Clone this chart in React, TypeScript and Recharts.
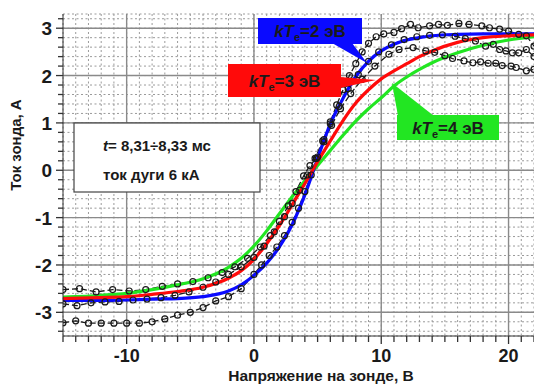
import { CartesianGrid, Line, LineChart, ReferenceLine, XAxis, YAxis } from 'recharts'

// model curves (kTe = 2, 3, 4 эВ)
const fitX = [-15, -12, -10, -8, -6, -4, -2, -1, 0, 1, 2, 3, 4, 5, 6, 7, 8, 9, 10, 11, 12, 13, 14, 16, 18, 20, 22]
const fitTe2 = [-2.75, -2.75, -2.74, -2.72, -2.71, -2.67, -2.55, -2.42, -2.22, -1.96, -1.62, -1.15, -0.52, 0.25, 0.98, 1.52, 1.98, 2.3, 2.52, 2.66, 2.75, 2.8, 2.84, 2.87, 2.88, 2.88, 2.88]
const fitTe3 = [-2.71, -2.69, -2.67, -2.62, -2.56, -2.47, -2.28, -2.12, -1.88, -1.55, -1.17, -0.73, -0.28, 0.18, 0.62, 1.05, 1.42, 1.7, 1.93, 2.1, 2.25, 2.4, 2.52, 2.7, 2.8, 2.84, 2.86]
const fitTe4 = [-2.68, -2.64, -2.6, -2.52, -2.42, -2.29, -2.05, -1.86, -1.6, -1.28, -0.92, -0.56, -0.22, 0.1, 0.42, 0.74, 1.04, 1.3, 1.53, 1.78, 1.97, 2.13, 2.27, 2.48, 2.64, 2.75, 2.82]

// measured probe traces
const probeAX = [-15, -14, -13, -12, -11, -10, -9, -8, -7, -6, -5, -4, -3, -2, -1, 0, 0.6, 1.2, 1.8, 2.4, 3, 3.5, 4, 4.5, 5, 5.5, 6, 6.5, 7, 7.5, 8, 8.5, 9, 9.6, 10.2, 11, 11.6, 12.3, 12.9, 13.8, 14.5, 15.2, 16.1, 16.9, 17.9, 18.5, 19.3, 20, 20.8, 21.4, 22]
const probeAY = [-3.22, -3.18, -3.23, -3.23, -3.23, -3.23, -3.23, -3.2, -3.14, -3.06, -3.0, -2.9, -2.76, -2.67, -2.5, -2.2, -2.0, -1.8, -1.62, -1.38, -1.1, -0.8, -0.45, -0.1, 0.28, 0.65, 1.02, 1.38, 1.7, 2.0, 2.25, 2.5, 2.68, 2.82, 2.88, 2.91, 2.99, 3.08, 3.01, 3.05, 3.08, 3.06, 3.1, 3.08, 3.05, 3.01, 2.98, 2.94, 2.87, 2.84, 2.62]
const probeBX = [-15, -13.9, -12.8, -11.7, -10.6, -9.5, -8.4, -7.3, -6.2, -5.1, -4, -3, -2, -1, 0, 0.8, 1.6, 2.4, 3, 3.6, 4.2, 4.8, 5.4, 6, 6.7, 7.4, 8.2, 9, 9.8, 10.8, 11.8, 12.8, 13.8, 14.8, 15.8, 16.6, 17.4, 18.2, 18.8, 19.3, 19.8, 20.3, 20.8, 21.4, 22]
const probeBY = [-2.82, -2.86, -2.8, -2.78, -2.77, -2.74, -2.72, -2.69, -2.64, -2.57, -2.47, -2.36, -2.2, -2.04, -1.84, -1.6, -1.3, -0.98, -0.7, -0.42, -0.1, 0.25, 0.62, 0.98, 1.35, 1.72, 2.02, 2.3, 2.5, 2.65, 2.76, 2.82, 2.85, 2.86, 2.83, 2.78, 2.73, 2.62, 2.66, 2.55, 2.52, 2.48, 2.48, 2.55, 2.4]
const probeCX = [-15, -13.7, -12.4, -11.1, -9.8, -8.5, -7.2, -6, -4.8, -3.6, -2.5, -1.5, -0.5, 0.5, 1.3, 2, 2.7, 3.3, 3.9, 4.4, 4.9, 5.5, 6.1, 6.8, 7.6, 8.5, 9.5, 10.6, 11.4, 12.5, 13.5, 14.2, 15, 15.6, 16.5, 17.2, 17.8, 18.4, 19, 19.5, 20.2, 20.6, 21.4, 22]
const probeCY = [-2.52, -2.5, -2.57, -2.52, -2.55, -2.52, -2.45, -2.4, -2.35, -2.27, -2.16, -2.04, -1.86, -1.62, -1.38, -1.08, -0.75, -0.45, -0.12, 0.1, 0.25, 0.6, 0.95, 1.3, 1.62, 1.92, 2.2, 2.45, 2.55, 2.59, 2.52, 2.49, 2.42, 2.36, 2.31, 2.27, 2.29, 2.26, 2.26, 2.21, 2.2, 2.17, 2.1, 2.13]

// axis labels / grid
const xMajorTicks = [-10, 0, 10, 20]
const yMajorTicks = [-3, -2, -1, 0, 1, 2, 3]
const xMinorTicks = Array.from({ length: 38 }, (_, i) => i - 15)
const yMinorTicks = Array.from({ length: 34 }, (_, i) => Math.round((i - 17) * 2) / 10)

const zip = (xs: number[], ys: number[]) => xs.map((x, i) => ({ x, y: ys[i] }))

const FONT = 'Liberation Sans, Arial, sans-serif'
const INK = '#1a1a1a'

function XTick({ x, y, payload }: any) {
  const major = xMajorTicks.includes(payload.value)
  return (
    <g>
      <line x1={x} x2={x} y1={y} y2={y + (major ? 8 : 6)} stroke='#333' strokeWidth={1.3} />
      {major && (
        <text x={x} y={y + 26} textAnchor='middle' fontSize={18} fontWeight='bold' fill={INK} fontFamily={FONT}>
          {payload.value}
        </text>
      )}
    </g>
  )
}

function YTick({ x, y, payload }: any) {
  const major = yMajorTicks.includes(payload.value)
  return (
    <g>
      <line x1={x - (major ? 7 : 5)} x2={x} y1={y} y2={y} stroke='#333' strokeWidth={1.3} />
      {major && (
        <text x={x - 11} y={y + 7} textAnchor='end' fontSize={19} fontWeight='bold' fill={INK} fontFamily={FONT}>
          {payload.value}
        </text>
      )}
    </g>
  )
}

function Callout({ text, x, y, w, h, fill, arrow }: any) {
  return (
    <g>
      <polygon points={arrow} fill={fill} />
      <rect x={x} y={y} width={w} height={h} fill={fill} />
      <text x={x + w / 2} y={y + h / 2 + 6} textAnchor='middle' fontSize={17} fontWeight='bold' fill={INK} fontFamily={FONT}>
        <tspan fontStyle='italic'>kT</tspan>
        <tspan fontSize={11} dy={4}>e</tspan>
        <tspan dy={-4}>{text}</tspan>
      </text>
    </g>
  )
}

const probeDot = { r: 3, stroke: INK, strokeWidth: 1.2, fill: 'none', strokeDasharray: '0' }

export default function App() {
  return (
    <div style={{ position: 'absolute', left: 0, top: 0, width: 534, height: 385, background: '#fff' }}>
      <LineChart width={534} height={385} margin={{ top: 14, right: 0, left: 0, bottom: 0 }}>
        <CartesianGrid stroke='#9a9a9a' strokeDasharray='2 2.5' strokeWidth={1} />
        <XAxis
          dataKey='x'
          type='number'
          domain={[-15, 22]}
          ticks={xMinorTicks}
          interval={0}
          allowDataOverflow
          height={49}
          tickSize={0}
          tickMargin={0}
          tick={<XTick />}
          stroke='#333'
        />
        <YAxis
          type='number'
          domain={[-3.5, 3.3]}
          ticks={yMinorTicks}
          interval={0}
          allowDataOverflow
          width={63}
          tickSize={0}
          tickMargin={0}
          tick={<YTick />}
          stroke='#333'
        />
        {xMajorTicks.map(v => (
          <ReferenceLine key={'vx' + v} x={v} stroke='#8a8a8a' strokeWidth={1.4} />
        ))}
        {yMajorTicks.map(v => (
          <ReferenceLine key={'hy' + v} y={v} stroke='#8a8a8a' strokeWidth={1.4} />
        ))}
        <Line data={zip(probeAX, probeAY)} dataKey='y' stroke={INK} strokeWidth={1.3} strokeDasharray='6 3' dot={probeDot} isAnimationActive={false} />
        <Line data={zip(probeBX, probeBY)} dataKey='y' stroke={INK} strokeWidth={1.3} strokeDasharray='6 3' dot={probeDot} isAnimationActive={false} />
        <Line data={zip(probeCX, probeCY)} dataKey='y' stroke={INK} strokeWidth={1.3} strokeDasharray='6 3' dot={probeDot} isAnimationActive={false} />
        <Line data={zip(fitX, fitTe4)} dataKey='y' type='monotone' stroke='#22e622' strokeWidth={3.2} dot={false} isAnimationActive={false} />
        <Line data={zip(fitX, fitTe2)} dataKey='y' type='monotone' stroke='#0a0aff' strokeWidth={3.2} dot={false} isAnimationActive={false} />
        <Line data={zip(fitX, fitTe3)} dataKey='y' type='monotone' stroke='#ff0a0a' strokeWidth={3.2} dot={false} isAnimationActive={false} />
      </LineChart>
      <svg width={534} height={385} style={{ position: 'absolute', left: 0, top: 0, pointerEvents: 'none' }}>
        <Callout text='=2 эВ' x={258} y={18} w={104} h={26} fill='#0a0aff' arrow='332,43 352,43 367,63' />
        <Callout text='=3 эВ' x={228} y={64} w={113} h={33} fill='#ff0a0a' arrow='340,77 340,88 376,80' />
        <Callout text='=4 эВ' x={397} y={115} w={102} h={25} fill='#22e622' arrow='398,116 434,116 392,83' />
        <rect x={74} y={123} width={186} height={69} fill='#fff' stroke='#444' strokeWidth={1.2} />
        <text x={103} y={151} fontSize={15} fontWeight='bold' fill={INK} fontFamily={FONT}>
          <tspan fontStyle='italic'>t</tspan>= 8,31÷8,33 мс
        </text>
        <text x={103} y={180} fontSize={15} fontWeight='bold' fill={INK} fontFamily={FONT}>
          ток дуги 6 кА
        </text>
        <text x={21} y={145} transform='rotate(-90 21 145)' textAnchor='middle' fontSize={15} fontWeight='bold' fill={INK} fontFamily={FONT}>
          Ток зонда, А
        </text>
        <text x={321} y={381} textAnchor='middle' fontSize={15.5} fontWeight='bold' fill={INK} fontFamily={FONT}>
          Напряжение на зонде, В
        </text>
      </svg>
    </div>
  )
}
